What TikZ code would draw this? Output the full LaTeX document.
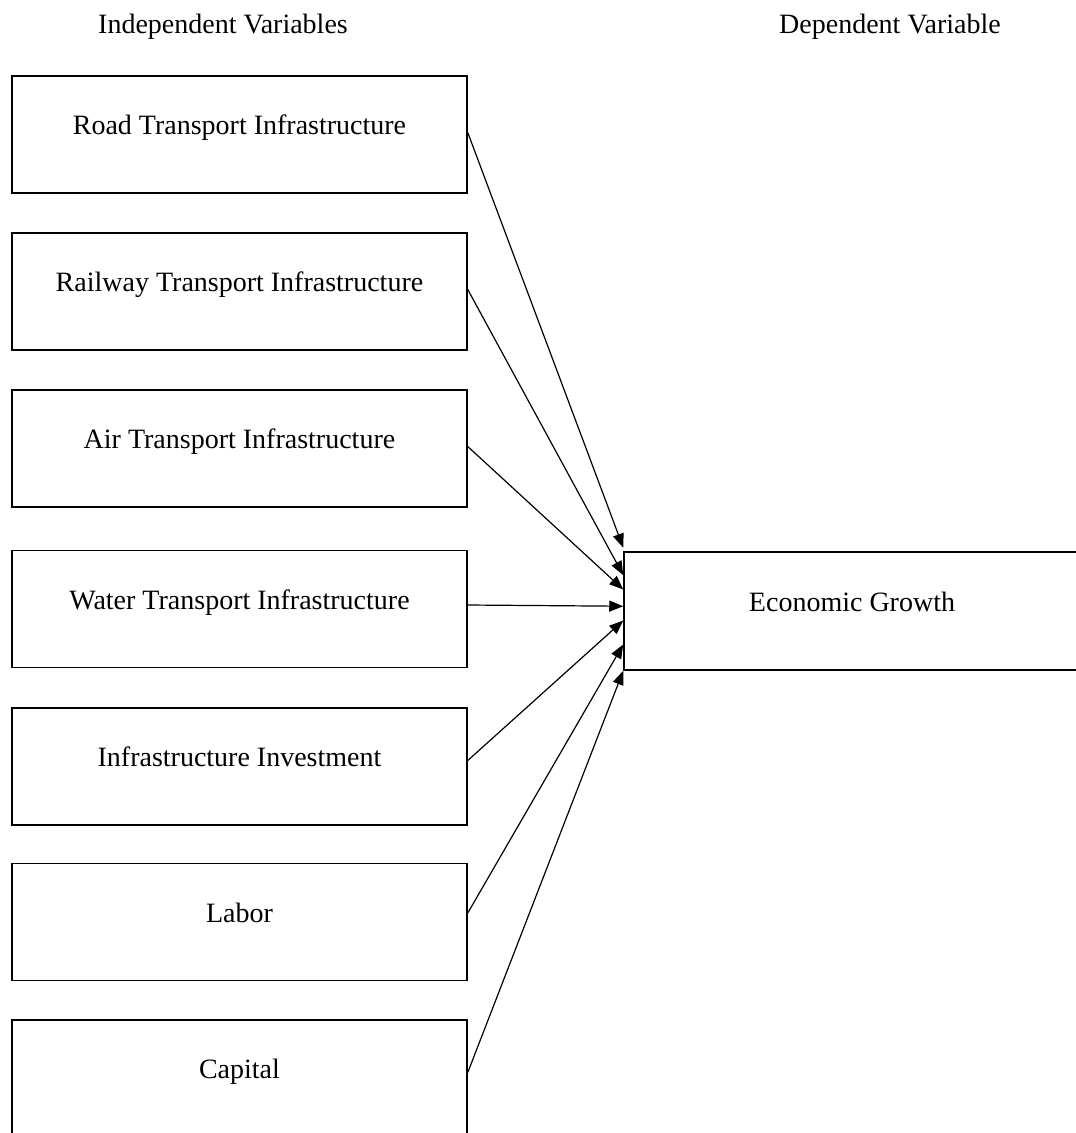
\documentclass[tikz,border=0pt]{standalone}
\usepackage{fontspec}
\setmainfont{Liberation Serif}
\usetikzlibrary{positioning,arrows.meta,calc}

\begin{document}
\begin{tikzpicture}[x=1pt,y=-1pt,font=\fontsize{28}{32}\selectfont,
  varbox/.style={draw,line width=1.5pt,minimum width=455pt,minimum height=117pt,
    text height=20pt,text depth=20pt,inner sep=0pt},
  link/.style={line width=1.2pt,-{Triangle[length=14pt,width=11pt]}}]
\useasboundingbox (0,0) rectangle (1076,1133);
% Headings
\node[anchor=base] (indep) at (223,33) {Independent Variables};
\node[anchor=base] (dep) at (890,33) {Dependent Variable};
% Independent variables
\node[varbox] (road) at (239.5,134.5) {Road Transport Infrastructure};
\node[varbox] (rail) at (239.5,291.5) {Railway Transport Infrastructure};
\node[varbox] (air) at (239.5,448.5) {Air Transport Infrastructure};
\node[varbox] (water) at (239.5,609) {Water Transport Infrastructure};
\node[varbox] (invest) at (239.5,766.5) {Infrastructure Investment};
\node[varbox] (labor) at (239.5,922) {Labor};
\node[varbox] (capital) at (239.5,1078.5) {Capital};
% Dependent variable
\node[varbox,minimum width=456pt,minimum height=118pt] (growth) at (852,611) {Economic Growth};
% Links
\draw[link] ($(road.east)+(0,-2)$) -- ($(growth.north west)!-0.03!(growth.south west)$);
\draw[link] ($(rail.east)+(0,-2)$) -- ($(growth.north west)!0.2!(growth.south west)$);
\draw[link] ($(air.east)+(0,-2)$) -- ($(growth.north west)!0.32!(growth.south west)$);
\draw[link] ($(water.east)+(0,-4)$) -- ($(growth.north west)!0.46!(growth.south west)$);
\draw[link] ($(invest.east)+(0,-6)$) -- ($(growth.north west)!0.58!(growth.south west)$);
\draw[link] ($(labor.east)+(0,-9)$) -- ($(growth.north west)!0.78!(growth.south west)$);
\draw[link] ($(capital.east)+(0,-6)$) -- ($(growth.north west)!1.0!(growth.south west)$);
\end{tikzpicture}
\end{document}
